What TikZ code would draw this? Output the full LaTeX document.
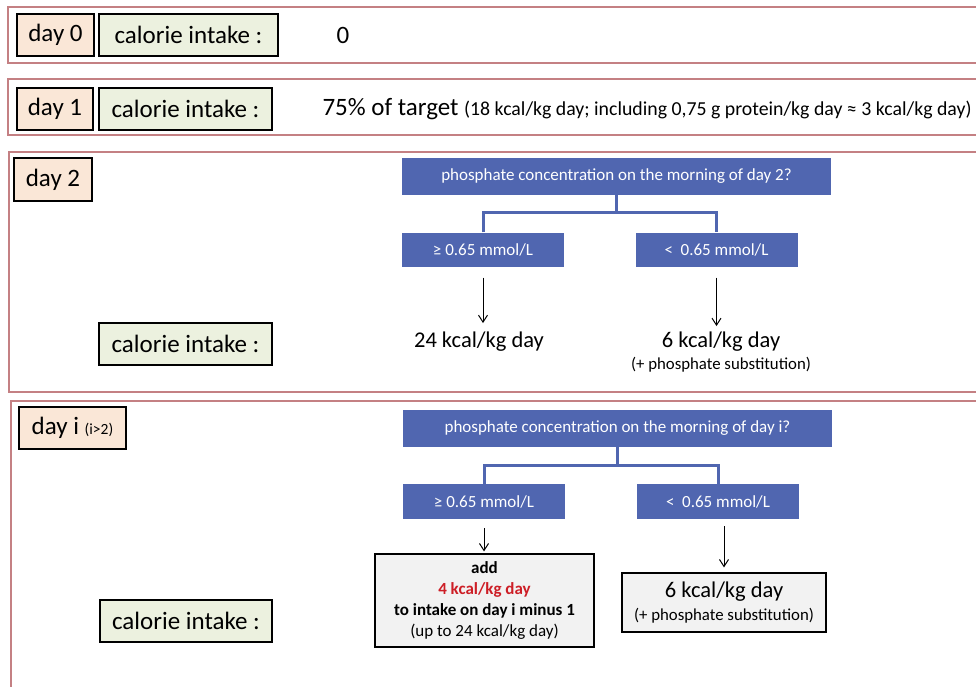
\documentclass[tikz,border=0pt]{standalone}
\usepackage{fontspec}
\setmainfont{Carlito}
\usetikzlibrary{arrows.meta, positioning}

\definecolor{rahmenrot}{RGB}{196,128,131}
\definecolor{tagfill}{RGB}{250,231,215}
\definecolor{kcalfill}{RGB}{236,241,223}
\definecolor{blau}{RGB}{80,102,176}
\definecolor{grau}{RGB}{242,242,242}
\definecolor{rot}{RGB}{205,30,38}

\newcommand{\fsz}[1]{\fontsize{#1}{#1}\selectfont}

\begin{document}
\begin{tikzpicture}[x=1pt, y=-1pt, >={Straight Barb[length=7pt, width=9pt]},
		rahmen/.style={draw=rahmenrot, line width=2.8pt},
		tag/.style={draw, line width=1.2pt, fill=tagfill, font=\fsz{25}, minimum height=42pt, inner sep=0pt},
		kcal/.style={draw, line width=1.2pt, fill=kcalfill, font=\fsz{25}, minimum width=173pt, minimum height=42pt, inner sep=0pt},
		frage/.style={fill=blau, text=white, font=\fsz{17}, minimum width=429pt, minimum height=37pt, inner sep=0pt},
		wert/.style={fill=blau, text=white, font=\fsz{17}, minimum width=162pt, minimum height=34pt, inner sep=0pt},
		ast/.style={draw=blau, line width=3pt},
		ergebnis/.style={draw, line width=1.2pt, fill=grau, inner sep=0pt, align=center},
		pfeil/.style={->, line width=1pt}]
				
				\useasboundingbox (0,0) rectangle (976,686);
				\fill[white] (0,0) rectangle (976,686);
				\clip (0,0) rectangle (976,686);
				
				% --- day 0 ---
				\draw[rahmen] (8,7) rectangle (995,63);
				\node[tag, minimum width=77pt] (tag0) at (55.5,35) {day 0};
				\node[kcal, minimum width=179pt] (kalorien0) at (188.5,35) {calorie intake :};
				\node[font=\fsz{25}] (null0) at (343,35) {0};
				
				% --- day 1 ---
				\draw[rahmen] (8,79) rectangle (995,135);
				\node[tag, minimum width=76pt] (tag1) at (55,109) {day 1};
				\node[kcal] (kalorien1) at (185.5,109) {calorie intake :};
				\node[anchor=west, font=\fsz{25}] (ziel1) at (319,109) {75\% of target {\fsz{19.8}(18 kcal/kg day; including 0,75 g protein/kg day ≈ 3 kcal/kg day)}};
				
				% --- day 2 ---
				\draw[rahmen] (9,152) rectangle (995,392);
				\node[tag, minimum width=78pt, minimum height=43pt] (tag2) at (53,179.5) {day 2};
				\node[frage] (frage2) at (616.5,176) {phosphate concentration on the morning of day 2?};
				\node[wert] (hoch2) at (483,249.5) {≥ 0.65 mmol/L};
				\node[wert] (tief2) at (716.5,249.5) {<\ \ 0.65 mmol/L};
				\draw[ast] (frage2.south) -- ++(0,18) coordinate (gabel2);
				\draw[ast] (hoch2.north) |- (gabel2) -| (tief2.north);
				
				\node[kcal] (kalorien2) at (185.5,344) {calorie intake :};
				\node[font=\fsz{22.5}, inner sep=0pt] (kcal24) at (479,342) {24 kcal/kg day};
				\node[font=\fsz{22.5}, inner sep=0pt] (kcal6) at (721,342) {6 kcal/kg day};
				\node[font=\fsz{16.8}, inner sep=0pt, below=5pt of kcal6] (subst2) {(+ phosphate substitution)};
				\draw[pfeil, shorten <=11pt, shorten >=9pt] (hoch2.south) -- (hoch2.south |- kcal24.north);
				\draw[pfeil, shorten <=11pt, shorten >=6pt] (tief2.south) -- (tief2.south |- kcal6.north);
				
				% --- day i (i>2) ---
				\draw[rahmen] (11,401) rectangle (995,700);
				\node[tag, minimum width=107pt] (tagi) at (72.5,428) {day i {\fsz{15.5}(i>2)}};
				\node[frage] (frage3) at (617.5,428.5) {phosphate concentration on the morning of day i?};
				\node[wert, minimum height=35pt] (hoch3) at (484,501.5) {≥ 0.65 mmol/L};
				\node[wert, minimum height=35pt] (tief3) at (718,501.5) {<\ \ 0.65 mmol/L};
				\draw[ast] (frage3.south) -- ++(0,18) coordinate (gabel3);
				\draw[ast] (hoch3.north) |- (gabel3) -| (tief3.north);
				
				\node[kcal, minimum width=172pt] (kalorien3) at (186,621) {calorie intake :};
				\node[ergebnis, minimum width=219pt, minimum height=93pt, font=\bfseries\fontsize{17}{20.7}\selectfont] (addieren) at (484.5,600.5)
					{add\\\textcolor{rot}{4 kcal/kg day}\\to intake on day i minus 1\\{\mdseries (up to 24 kcal/kg day)}};
				\node[ergebnis, minimum width=204pt, minimum height=59pt, font=\fontsize{16.8}{23}\selectfont] (sechs3) at (724,602.5)
					{{\fontsize{22.5}{23}\selectfont 6 kcal/kg day}\\(+ phosphate substitution)};
				\draw[pfeil, shorten <=9pt, shorten >=2pt] (hoch3.south) -- (hoch3.south |- addieren.north);
				\draw[pfeil, shorten <=7pt, shorten >=5pt] (sechs3.north |- tief3.south) -- (sechs3.north);
				
			\end{tikzpicture}
\end{document}
